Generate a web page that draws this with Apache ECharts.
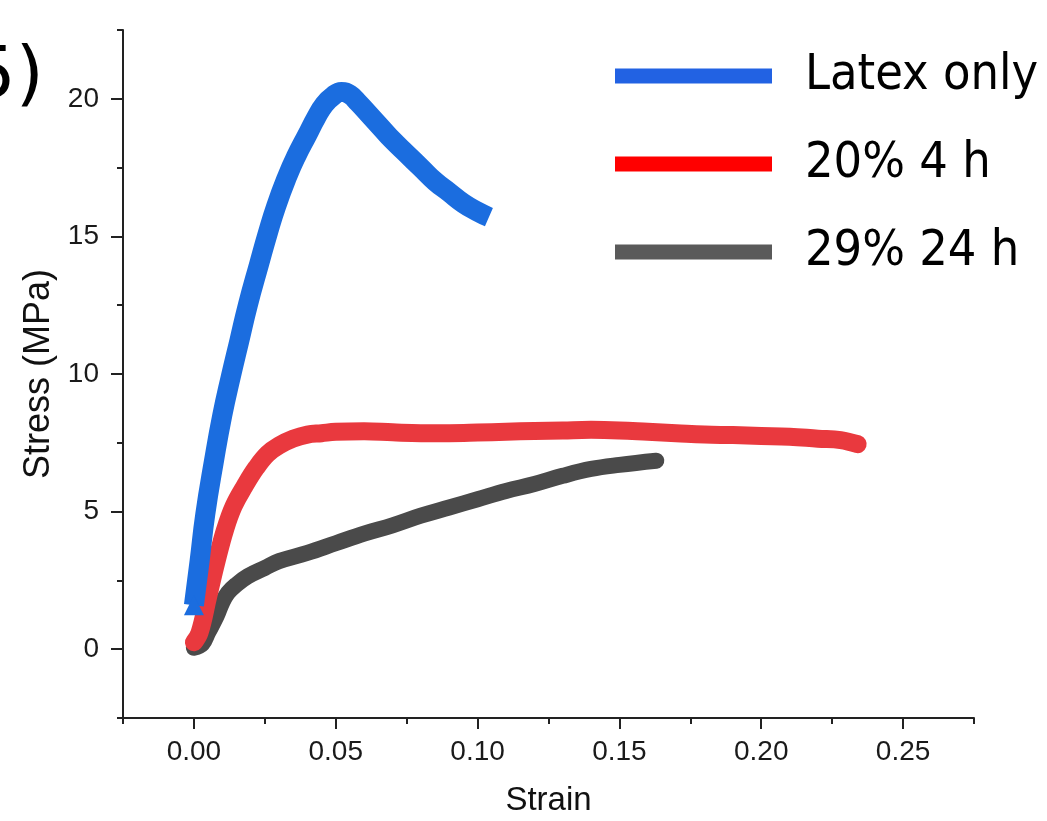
<!DOCTYPE html>
<html lang="en">
  <head>
    <meta charset="UTF-8" />
    <title>Stress-strain</title>
    <style>
      * {
        padding: 0;
        margin: 0;
      }
      body {
        background: #fff;
        overflow: hidden;
      }
      #chart {
        width: 1047px;
        height: 821px;
      }
    </style>
    <script src="https://cdn.jsdelivr.net/npm/echarts@6/dist/echarts.min.js"></script>
  </head>
  <body>
    <div id="chart"></div>
  </body>
  <script>
    // series names
    const seriesNames = ["Latex only", "20% 4 h", "29% 24 h"];

    // Latex only
    const strainLatex = [
      0.0, 0.002, 0.004, 0.007, 0.01, 0.013, 0.016, 0.019, 0.023, 0.026,
      0.029, 0.033, 0.036, 0.04, 0.043, 0.046, 0.049, 0.052, 0.055, 0.058,
      0.062, 0.066, 0.07, 0.075, 0.08, 0.085, 0.09, 0.095, 0.1, 0.104,
    ];
    const stressLatex = [
      1.6, 3.2, 4.9, 6.8, 8.5, 9.9, 11.2, 12.5, 14.0, 15.1, 16.1, 17.2, 17.9,
      18.7, 19.3, 19.8, 20.1, 20.25, 20.15, 19.85, 19.4, 18.95, 18.5, 18.0,
      17.5, 17.0, 16.6, 16.2, 15.9, 15.7,
    ];

    // 20% 4 h
    const strain20 = [
      0.0, 0.002, 0.005, 0.008, 0.011, 0.014, 0.018, 0.022, 0.026, 0.03,
      0.035, 0.04, 0.045, 0.05, 0.06, 0.07, 0.08, 0.09, 0.1, 0.11, 0.12, 0.13,
      0.14, 0.15, 0.16, 0.17, 0.18, 0.19, 0.2, 0.21, 0.22, 0.228, 0.234,
    ];
    const stress20 = [
      0.25, 0.6, 1.9, 3.2, 4.35, 5.2, 5.95, 6.6, 7.1, 7.4, 7.65, 7.8, 7.85,
      7.9, 7.92, 7.88, 7.85, 7.85, 7.87, 7.9, 7.93, 7.95, 7.97, 7.95, 7.9,
      7.85, 7.8, 7.78, 7.75, 7.72, 7.65, 7.6, 7.45,
    ];

    // 29% 24 h
    const strain29 = [
      0.0, 0.003, 0.005, 0.008, 0.01, 0.012, 0.015, 0.019, 0.025, 0.03, 0.04,
      0.05, 0.06, 0.07, 0.08, 0.09, 0.1, 0.11, 0.12, 0.13, 0.14, 0.15, 0.163,
    ];
    const stress29 = [
      0.05, 0.2, 0.6, 1.2, 1.7, 2.05, 2.35, 2.65, 2.95, 3.2, 3.5, 3.85, 4.2,
      4.5, 4.85, 5.15, 5.45, 5.75, 6.0, 6.3, 6.55, 6.7, 6.85,
    ];

    // axis ticks
    const xMajorTicks = [0, 0.05, 0.1, 0.15, 0.2, 0.25];
    const xMinorTicks = [-0.025, 0.025, 0.075, 0.125, 0.175, 0.225, 0.275];
    const yMajorTicks = [0, 5, 10, 15, 20];
    const yMinorTicks = [-2.5, 2.5, 7.5, 12.5, 17.5, 22.5];

    const zip = (xs, ys) => xs.map((x, i) => [x, ys[i]]);

    const axisColor = "#222";
    const labelFont = "'Liberation Sans', Arial, sans-serif";

    const chart = echarts.init(document.getElementById("chart"));

    const option = {
      animation: false,
      backgroundColor: "#fff",
      grid: {
        left: 123,
        right: 73,
        top: 30,
        bottom: 103,
        outerBoundsMode: "none",
      },
      legend: {
        orient: "vertical",
        left: 610,
        top: 46,
        itemWidth: 157,
        itemHeight: 15,
        itemGap: 38,
        icon: "rect",
        textStyle: {
          fontSize: 50,
          lineHeight: 50,
          color: "#000",
          fontFamily: "'DejaVu Sans Condensed', 'DejaVu Sans', sans-serif",
          padding: [0, 0, 0, 28],
        },
        data: [
          { name: seriesNames[0], itemStyle: { color: "#2262e3" } },
          { name: seriesNames[1], itemStyle: { color: "#ff0000" } },
          { name: seriesNames[2], itemStyle: { color: "#5a5a5a" } },
        ],
      },
      graphic: [
        {
          type: "text",
          left: -30,
          top: 42,
          style: {
            text: "5)",
            fontSize: 72,
            fontFamily: "'DejaVu Sans', sans-serif",
            fill: "#000",
          },
        },
      ],
      xAxis: [
        {
          type: "value",
          min: -0.025,
          max: 0.275,
          name: "Strain",
          nameLocation: "middle",
          nameGap: 66,
          nameTextStyle: {
            fontSize: 33,
            color: "#111",
            fontFamily: labelFont,
          },
          axisLine: {
            show: true,
            onZero: false,
            lineStyle: { color: axisColor, width: 2 },
          },
          axisTick: {
            show: true,
            length: 11,
            lineStyle: { color: axisColor, width: 2 },
            customValues: xMajorTicks,
          },
          axisLabel: {
            fontSize: 28,
            color: "#1a1a1a",
            fontFamily: labelFont,
            margin: 20,
            customValues: xMajorTicks,
            formatter: (v) => v.toFixed(2),
          },
          splitLine: { show: false },
        },
        {
          type: "value",
          min: -0.025,
          max: 0.275,
          position: "bottom",
          axisLine: { show: false, onZero: false },
          axisTick: {
            show: true,
            length: 6,
            lineStyle: { color: axisColor, width: 2 },
            customValues: xMinorTicks,
          },
          axisLabel: { show: false },
          splitLine: { show: false },
        },
      ],
      yAxis: [
        {
          type: "value",
          min: -2.5,
          max: 22.5,
          name: "Stress (MPa)",
          nameLocation: "middle",
          nameGap: 66,
          nameTextStyle: {
            fontSize: 36,
            color: "#111",
            fontFamily: labelFont,
          },
          axisLine: {
            show: true,
            onZero: false,
            lineStyle: { color: axisColor, width: 2 },
          },
          axisTick: {
            show: true,
            length: 12,
            lineStyle: { color: axisColor, width: 2 },
            customValues: yMajorTicks,
          },
          axisLabel: {
            fontSize: 28,
            color: "#1a1a1a",
            fontFamily: labelFont,
            margin: 24,
            customValues: yMajorTicks,
          },
          splitLine: { show: false },
        },
        {
          type: "value",
          min: -2.5,
          max: 22.5,
          position: "left",
          axisLine: { show: false, onZero: false },
          axisTick: {
            show: true,
            length: 6,
            lineStyle: { color: axisColor, width: 2 },
            customValues: yMinorTicks,
          },
          axisLabel: { show: false },
          splitLine: { show: false },
        },
      ],
      series: [
        {
          name: seriesNames[2],
          type: "line",
          data: zip(strain29, stress29),
          showSymbol: false,
          smooth: 0.4,
          lineStyle: { color: "#4a4a4a", width: 16, cap: "round", join: "round" },
          itemStyle: { color: "#4a4a4a" },
          z: 2,
        },
        {
          name: seriesNames[1],
          type: "line",
          data: zip(strain20, stress20),
          showSymbol: false,
          smooth: 0.4,
          lineStyle: { color: "#e9393e", width: 18, cap: "round", join: "round" },
          itemStyle: { color: "#e9393e" },
          z: 3,
        },
        {
          name: seriesNames[0],
          type: "line",
          data: zip(strainLatex, stressLatex),
          symbol: "triangle",
          symbolSize: (v, p) => (p.dataIndex === 0 ? 20 : 0),
          showAllSymbol: true,
          smooth: 0.5,
          lineStyle: { color: "#1b6ddf", width: 20, join: "round" },
          itemStyle: { color: "#1b6ddf", borderWidth: 0 },
          z: 4,
        },
      ],
    };

    chart.setOption(option);
  </script>
</html>
